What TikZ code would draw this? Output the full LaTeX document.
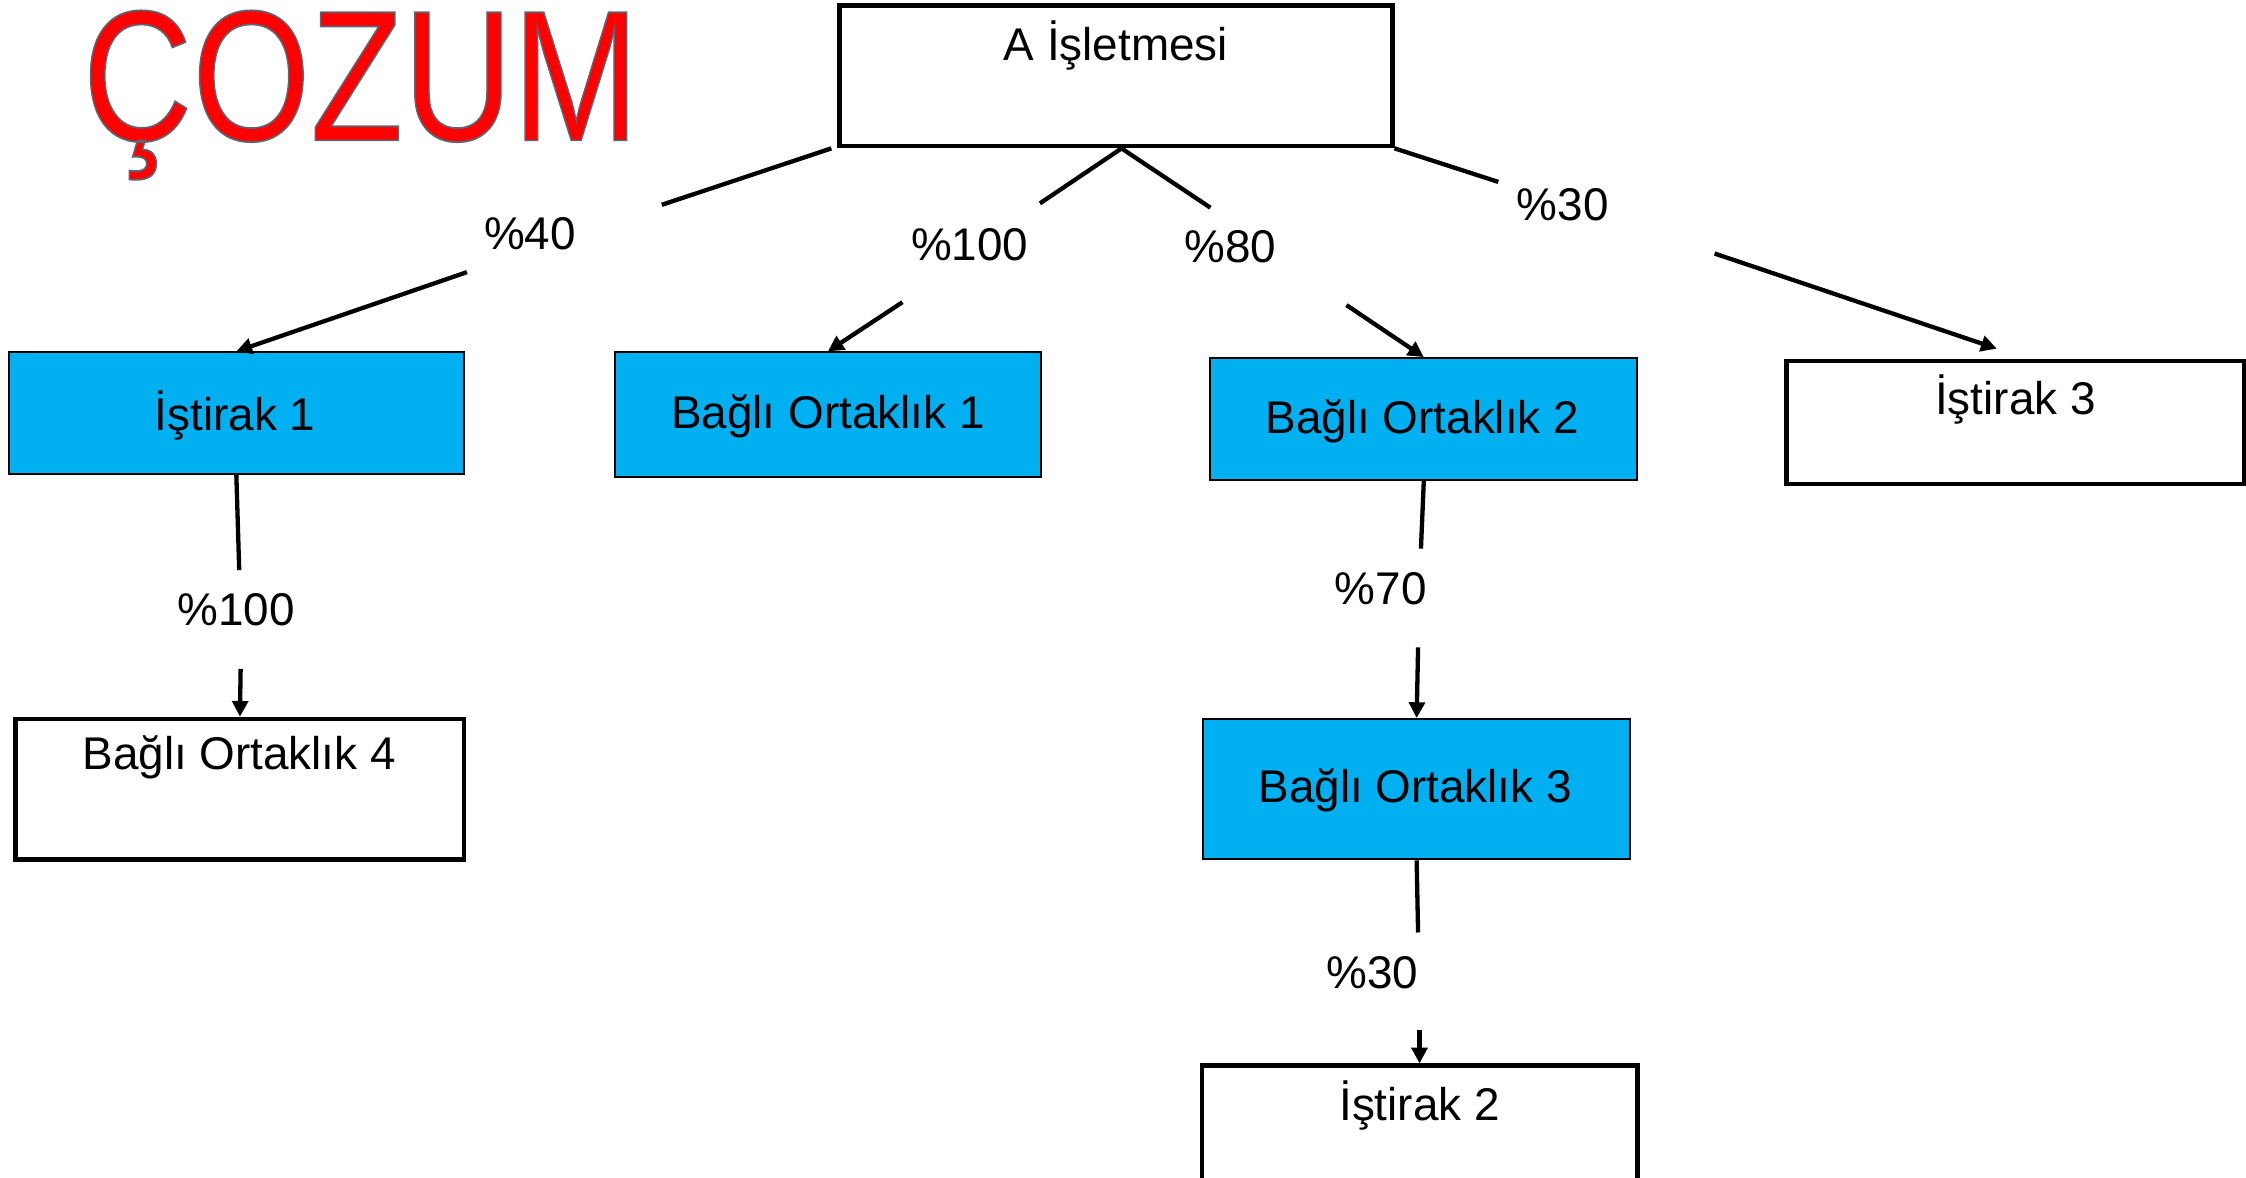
\documentclass[tikz,border=0pt]{standalone}
\usepackage{fontspec}
\usepackage{graphicx}
\setmainfont{Liberation Sans}
\usetikzlibrary{arrows.meta}
\definecolor{boxcyan}{HTML}{00B0F0}
\definecolor{titlered}{HTML}{FF0000}
\begin{document}
\begin{tikzpicture}[x=0.5pt,y=-0.5pt,
  txt/.style={font=\fontsize{16}{19}\selectfont, inner sep=0pt},
  cbox/.style={draw=black, line width=0.7pt, fill=boxcyan, inner sep=0pt,
    font=\fontsize{16}{19}\selectfont, text depth=0pt, text height=0pt},
  wbox/.style={draw=black, line width=1.6pt, fill=white, inner sep=0pt},
  conn/.style={line width=1.5pt, black},
  arr/.style={conn, -{Triangle[length=5.5pt,width=5.5pt]}},
  pct/.style={txt}
]
\useasboundingbox (0,0) rectangle (1568,822);
\clip (0,0) rectangle (1568,822);

% title
\node[anchor=base, inner sep=0pt, text=titlered] (title) at (252,98)
  {\fontsize{65}{70}\selectfont\special{pdf:literal direct 2 Tr 0.6 w 0.35 0.4 0.45 RG}\scalebox{0.815}[1]{ÇOZUM}\special{pdf:literal direct 0 Tr}};

% boxes
\node[wbox, minimum width=193pt, minimum height=49pt] (top) at (779,53) {};
\node[txt] (topT) at (779,32) {A İşletmesi};

\node[cbox, minimum width=159pt, minimum height=42.5pt] (ist1) at (165,288.5) {};
\node[txt] (ist1T) at (164,290) {İştirak 1};
\node[cbox, minimum width=149pt, minimum height=43.5pt] (bo1) at (578,289.5) {};
\node[txt] (bo1T) at (578,291) {Bağlı Ortaklık 1};
\node[cbox, minimum width=149pt, minimum height=42.5pt] (bo2) at (994,292.5) {};
\node[txt] (bo2T) at (993,294) {Bağlı Ortaklık 2};
\node[wbox, minimum width=160pt, minimum height=43pt] (ist3) at (1407,295) {};
\node[txt] (ist3T) at (1407,279) {İştirak 3};

\node[wbox, minimum width=156.5pt, minimum height=49pt] (bo4) at (167.5,551) {};
\node[txt] (bo4T) at (167,529) {Bağlı Ortaklık 4};
\node[cbox, minimum width=149pt, minimum height=49pt] (bo3) at (989,551) {};
\node[txt] (bo3T) at (988,552) {Bağlı Ortaklık 3};
\node[wbox, minimum width=152pt, minimum height=49pt] (ist2) at (991,793) {};
\node[txt] (ist2T) at (991,772) {İştirak 2};

% gap coordinates
\coordinate (a40) at (462,143);  \coordinate (b40) at (326,190);
\coordinate (a100) at (726,142); \coordinate (b100) at (630,211);
\coordinate (a80) at (845,145);  \coordinate (b80) at (940,213);
\coordinate (a30) at (1046,127); \coordinate (b30) at (1197,177);
\coordinate (c100) at (167,398); \coordinate (d100) at (168,467);
\coordinate (a70) at (992,383);  \coordinate (b70) at (990,452);
\coordinate (e30) at (990,651);  \coordinate (f30) at (991,719);

% labels
\node[pct] (l40) at (370,163) {\%40};
\node[pct] (l100) at (677,171) {\%100};
\node[pct] (l80) at (859,172) {\%80};
\node[pct] (l30) at (1091,143) {\%30};
\node[pct] (l100b) at (165,426) {\%100};
\node[pct] (l70) at (964,411) {\%70};
\node[pct] (l30b) at (958,679) {\%30};

% connectors
\draw[conn] ([xshift=-2pt]top.south west) -- (a40);
\draw[arr] (b40) -- (ist1.north);
\draw[conn] ([xshift=2pt]top.south) -- (a100);
\draw[arr] (b100) -- (bo1.north);
\draw[conn] ([xshift=2pt]top.south) -- (a80);
\draw[arr] (b80) -- (bo2.north);
\draw[conn] (top.south east) -- (a30);
\draw[arr] (b30) -- ([shift={(-13,-7)}]ist3.north);
\draw[conn] (ist1.south) -- (c100);
\draw[arr] (d100) -- (bo4.north);
\draw[conn] (bo2.south) -- (a70);
\draw[arr] (b70) -- (bo3.north);
\draw[conn] (bo3.south) -- (e30);
\draw[arr] (f30) -- (ist2.north);
\end{tikzpicture}
\end{document}
